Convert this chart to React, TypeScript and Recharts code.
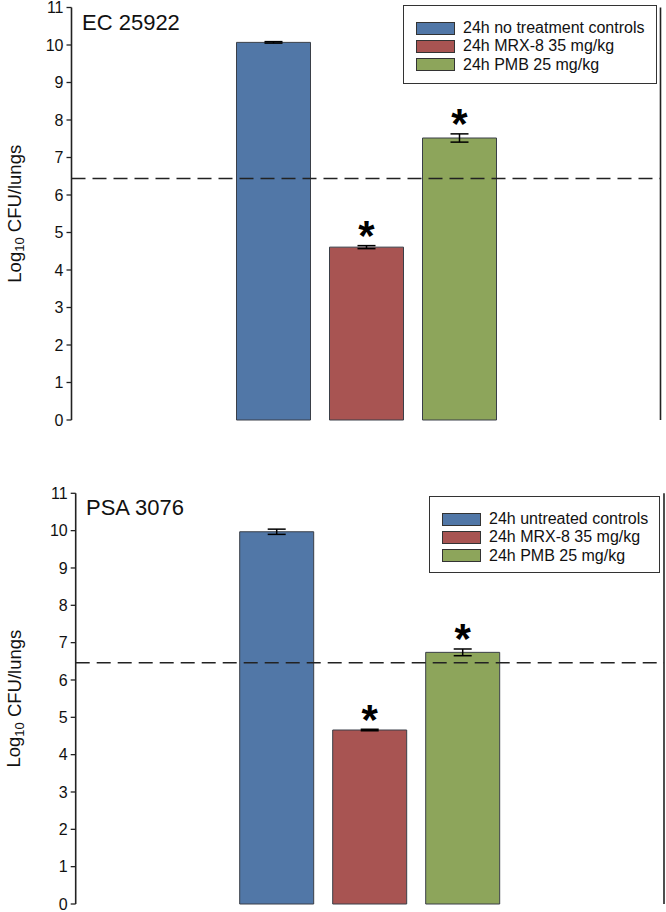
import React from "react";
import {
  Bar,
  BarChart,
  ErrorBar,
  Legend,
  ReferenceLine,
  XAxis,
  YAxis,
} from "recharts";

const panels = ["EC 25922", "PSA 3076"];
const controlLabels = ["24h no treatment controls", "24h untreated controls"];
const mrxLabel = "24h MRX-8 35 mg/kg";
const pmbLabel = "24h PMB 25 mg/kg";

const controlMeans = [10.07, 9.97];
const controlErrs = [0.02, 0.07];
const mrxMeans = [4.61, 4.66];
const mrxErrs = [0.04, 0.02];
const pmbMeans = [7.52, 6.74];
const pmbErrs = [0.11, 0.09];
const detectionLimit = [6.44, 6.46];

const yTicks = [0, 1, 2, 3, 4, 5, 6, 7, 8, 9, 10, 11];
const seriesOrder = ["control", "mrx", "pmb"];

const FONT = "'Liberation Sans', Arial, sans-serif";
const INK = "#222";
const BLUE = "#5177a7";
const RED = "#a85452";
const GREEN = "#8da55b";

const layout = [
  { top: 0, height: 440, mt: 7.5, mb: 20, left: 71.5, right: 5.5, lg: { top: 5, left: 403, width: 254, height: 79 }, title: { left: 82, top: 10 } },
  { top: 480, height: 432, mt: 13.3, mb: 8, left: 75.7, right: 2, lg: { top: 496, left: 429, width: 231, height: 77 }, title: { left: 86, top: 495 } },
];

function Star(err: number) {
  return (props: any) => {
    const x = Number(props.x);
    const y = Number(props.y);
    const w = Number(props.width);
    const h = Number(props.height);
    const v = Number(props.value);
    const errTop = y - (err * h) / v;
    const fs = 42;
    return (
      <text
        x={x + w / 2}
        y={errTop - 20 + fs * 0.58}
        textAnchor="middle"
        fontFamily={FONT}
        fontWeight="bold"
        fontSize={fs}
        fill="#000"
      >
        *
      </text>
    );
  };
}

function YTitle(props: any) {
  const vb = props.viewBox || {};
  const cy = vb.y + vb.height / 2;
  return (
    <text
      x={14}
      y={cy}
      transform={`rotate(-90 14 ${cy})`}
      textAnchor="middle"
      dominantBaseline="central"
      fontFamily={FONT}
      fontSize={18.5}
      fill="#111"
    >
      Log
      <tspan fontSize={13} dy={5}>10</tspan>
      <tspan dy={-5}> CFU/lungs</tspan>
    </text>
  );
}

function LegendBox(props: any) {
  const items = [...(props.payload || [])].sort(
    (a: any, b: any) => seriesOrder.indexOf(a.dataKey) - seriesOrder.indexOf(b.dataKey)
  );
  return (
    <div
      style={{
        boxSizing: "border-box",
        width: props.w,
        height: props.h,
        border: "1.5px solid #333",
        background: "#fff",
        padding: "13px 0 0 12px",
        fontFamily: FONT,
        fontSize: 16,
        color: "#111",
      }}
    >
      {items.map((it: any) => (
        <div key={it.value} style={{ display: "flex", alignItems: "center", height: 18.3 }}>
          <span
            style={{
              display: "inline-block",
              width: 37,
              height: 11,
              background: it.color,
              border: "1px solid #333",
              marginRight: 8,
            }}
          />
          <span style={{ whiteSpace: "nowrap" }}>{it.value}</span>
        </div>
      ))}
    </div>
  );
}

function Panel({ i }: { i: number }) {
  const L = layout[i];
  const data = [
    {
      name: panels[i],
      control: controlMeans[i],
      controlErr: controlErrs[i],
      mrx: mrxMeans[i],
      mrxErr: mrxErrs[i],
      pmb: pmbMeans[i],
      pmbErr: pmbErrs[i],
    },
  ];
  return (
    <div style={{ position: "absolute", left: 0, top: L.top, width: 666, height: L.height }}>
      <BarChart
        width={666}
        height={L.height}
        data={data}
        margin={{ top: L.mt, right: 0, bottom: L.mb, left: 0 }}
        barSize={74}
        barGap={19}
      >
        <XAxis
          dataKey="name"
          tick={false}
          tickLine={false}
          height={0}
          axisLine={{ stroke: INK, strokeWidth: 1.6 }}
        />
        <YAxis
          yAxisId="l"
          domain={[0, 11]}
          ticks={yTicks}
          width={L.left}
          tickSize={5}
          tickMargin={3}
          interval={0}
          axisLine={{ stroke: INK, strokeWidth: 1.6 }}
          tickLine={{ stroke: INK, strokeWidth: 1.3 }}
          tick={{ fontFamily: FONT, fontSize: 16, fill: "#111" }}
          label={<YTitle />}
        />
        <YAxis
          yAxisId="r"
          orientation="right"
          domain={[0, 11]}
          width={L.right}
          tick={false}
          tickLine={false}
          axisLine={{ stroke: INK, strokeWidth: 1.6 }}
        />
        <Bar yAxisId="l" dataKey="control" name={controlLabels[i]} fill={BLUE} stroke="#3a3f48" strokeWidth={1} isAnimationActive={false}>
          <ErrorBar dataKey="controlErr" width={9} stroke="#000" strokeWidth={1.5} direction="y" />
        </Bar>
        <Bar yAxisId="l" dataKey="mrx" name={mrxLabel} fill={RED} stroke="#3a3f48" strokeWidth={1} isAnimationActive={false} label={Star(mrxErrs[i])}>
          <ErrorBar dataKey="mrxErr" width={9} stroke="#000" strokeWidth={1.5} direction="y" />
        </Bar>
        <Bar yAxisId="l" dataKey="pmb" name={pmbLabel} fill={GREEN} stroke="#3a3f48" strokeWidth={1} isAnimationActive={false} label={Star(pmbErrs[i])}>
          <ErrorBar dataKey="pmbErr" width={9} stroke="#000" strokeWidth={1.5} direction="y" />
        </Bar>
        <ReferenceLine yAxisId="l" y={detectionLimit[i]} stroke={INK} strokeWidth={1.6} strokeDasharray="14 7" />
        <Legend
          layout="vertical"
          verticalAlign="middle"
          align="center"
          wrapperStyle={{ top: L.lg.top - L.top, left: L.lg.left, width: L.lg.width }}
          content={(p: any) => <LegendBox {...p} w={L.lg.width} h={L.lg.height} />}
        />
      </BarChart>
      <div
        style={{
          position: "absolute",
          left: L.title.left,
          top: L.title.top - L.top,
          fontFamily: FONT,
          fontSize: 22,
          color: "#111",
          lineHeight: "26px",
        }}
      >
        {panels[i]}
      </div>
    </div>
  );
}

export default function App() {
  return (
    <div style={{ position: "absolute", left: 0, top: 0, width: 666, height: 912, background: "#fff" }}>
      <Panel i={0} />
      <Panel i={1} />
    </div>
  );
}
